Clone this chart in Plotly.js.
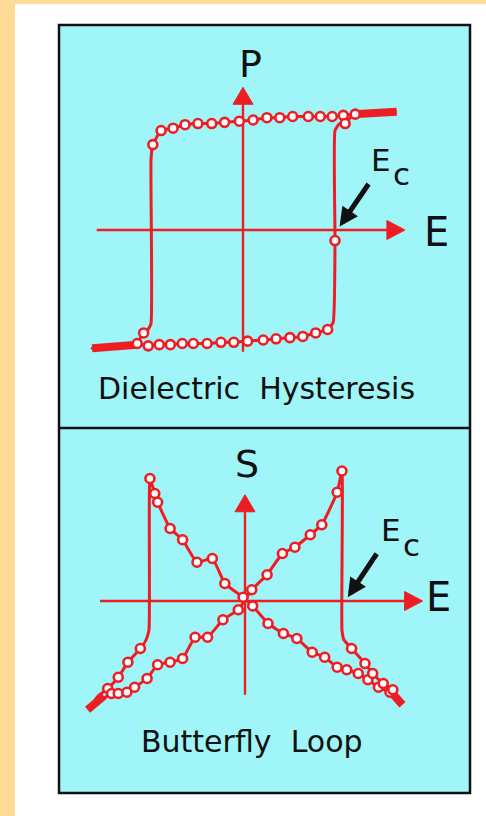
<!DOCTYPE html>
<html>
<head>
<meta charset="utf-8">
<script src="https://cdn.plot.ly/plotly-3.0.1.min.js"></script>
<style>
  html, body { margin: 0; padding: 0; background: #ffffff; }
  #chart { width: 486px; height: 816px; }
</style>
</head>
<body>
<div id="chart"></div>
<script>
// ---- Dielectric hysteresis P(E): field in units of Ec, polarization in units of Ps ----
// Closed loop: upper branch right->left, left switching edge, lower branch left->right, right switching edge.
const hystE = [1.67, 1.38, 1.22, 1.09, 0.97, 0.84, 0.71, 0.54, 0.40, 0.26, 0.11, -0.04, -0.20, -0.34, -0.49, -0.63, -0.76, -0.89, -0.98,
               -1.00, -1.00, -1.04, -1.08, -1.15, -1.35, -1.64,
               -1.45, -1.15, -1.03, -0.91, -0.79, -0.66, -0.54, -0.39, -0.24, -0.10, 0.05, 0.22, 0.36, 0.51, 0.65, 0.79, 0.92,
               0.98, 1.00, 1.00, 1.05, 1.11, 1.18, 1.38, 1.67];
const hystP = [1.01, 1.00, 0.99, 0.98, 0.97, 0.97, 0.97, 0.97, 0.96, 0.96, 0.94, 0.93, 0.92, 0.91, 0.91, 0.90, 0.87, 0.85, 0.73,
               0.60, -0.80, -0.86, -0.88, -0.96, -0.99, -1.01,
               -1.00, -0.97, -0.99, -0.98, -0.98, -0.97, -0.97, -0.97, -0.96, -0.96, -0.95, -0.94, -0.93, -0.92, -0.91, -0.88, -0.85,
               -0.79, -0.09, 0.85, 0.91, 0.91, 0.97, 1.00, 1.01];
// 1 where a measured point (open circle) is drawn
const hystMark = [0, 0, 1, 1, 1, 1, 1, 1, 1, 1, 1, 1, 1, 1, 1, 1, 1, 1, 1,
                  0, 0, 0, 1, 0, 0, 0,
                  0, 1, 1, 1, 1, 1, 1, 1, 1, 1, 1, 1, 1, 1, 1, 1, 1,
                  0, 1, 0, 0, 1, 0, 0, 0];
// saturated ends, where the recorded points pile up
const hystTailE = [1.20, 1.45, 1.67, null, -1.64, -1.40, -1.15];
const hystTailP = [0.99, 1.00, 1.01, null, -1.01, -1.00, -0.98];

// ---- Butterfly loop S(E): field in units of Ec, strain in units of peak strain ----
const flyE = [1.61, 1.51, 1.39, 1.28, 1.18, 1.06, 0.96, 0.83, 0.70, 0.54, 0.40, 0.24, 0.08, -0.02, -0.21, -0.34, -0.50, -0.65, -0.78, -0.91, -0.94, -0.99,
              -1.00, -1.03, -1.09, -1.22, -1.32, -1.43, -1.53, -1.61,
              -1.39, -1.32, -1.23, -1.15, -1.02, -0.91, -0.78, -0.65, -0.52, -0.39, -0.23, -0.07, 0.07, 0.23, 0.39, 0.52, 0.68, 0.80, 0.96, 1.01,
              1.01, 1.03, 1.11, 1.25, 1.33, 1.44, 1.54, 1.61];
const flyS = [-0.79, -0.73, -0.69, -0.63, -0.58, -0.55, -0.53, -0.45, -0.41, -0.30, -0.26, -0.18, -0.04, 0.03, 0.14, 0.34, 0.31, 0.49, 0.58, 0.79, 0.86, 0.98,
              -0.23, -0.31, -0.38, -0.49, -0.61, -0.70, -0.76, -0.85,
              -0.74, -0.74, -0.73, -0.69, -0.62, -0.51, -0.49, -0.46, -0.29, -0.29, -0.15, -0.07, 0.09, 0.21, 0.38, 0.43, 0.53, 0.61, 0.87, 1.04,
              -0.23, -0.31, -0.38, -0.50, -0.58, -0.66, -0.71, -0.79];
const flyMark = [0, 1, 1, 1, 1, 1, 1, 1, 1, 1, 1, 1, 1, 1, 1, 1, 1, 1, 1, 1, 1, 1,
                 0, 0, 1, 1, 1, 1, 0, 0,
                 1, 1, 1, 1, 1, 1, 1, 1, 1, 1, 1, 1, 1, 1, 1, 1, 1, 1, 1, 1,
                 0, 0, 1, 1, 1, 1, 1, 0];
const flyTailE = [-1.64, -1.47, null, 1.49, 1.64];
const flyTailS = [-0.87, -0.76, null, -0.70, -0.83];

// ---- axis extents (tail end, arrow tip) ----
const topAxisE = [-1.59, 1.76];
const topAxisP = [-1.04, 1.22];
const botAxisE = [-1.51, 1.85];
const botAxisS = [-0.75, 0.85];

const panelTitles = ['Dielectric\u00a0\u00a0Hysteresis', 'Butterfly\u00a0\u00a0Loop'];
const axisLetters = { topX: 'E', topY: 'P', botX: 'E', botY: 'S' };

// ---- page geometry ----
const W = 486, H = 816;
const RED = '#EE1D23';
const CYAN = '#A0F5F8';
const PEACH = '#FDDA96';
const INK = '#111111';
const FONT = 'DejaVu Sans, sans-serif';

// pixel origin / pixels per unit of each panel
const topP = { cx: 243, cy: 230, sx: 92, sy: 117, pyTop: 25, pyBot: 428 };
const botP = { cx: 245, cy: 601, sx: 96, sy: 125, pyTop: 428, pyBot: 793 };

function axisPair(p, anchorX, anchorY) {
  return [
    { domain: [0, 1], range: [(0 - p.cx) / p.sx, (W - p.cx) / p.sx], visible: false, fixedrange: true, anchor: anchorY },
    { domain: [1 - p.pyBot / H, 1 - p.pyTop / H], range: [(p.cy - p.pyBot) / p.sy, (p.cy - p.pyTop) / p.sy], visible: false, fixedrange: true, anchor: anchorX }
  ];
}
const [xa1, ya1] = axisPair(topP, 'x', 'y');
const [xa2, ya2] = axisPair(botP, 'x2', 'y2');

function pick(arr, mask) { return arr.filter((_, i) => mask[i] === 1); }

function crossTraces(ax, ay, xr, yr) {
  return [
    { x: [xr[0], xr[1] - 0.05], y: [0, 0], xaxis: ax, yaxis: ay, mode: 'lines', line: { color: RED, width: 2.4 }, hoverinfo: 'skip' },
    { x: [0, 0], y: [yr[0], yr[1] - 0.05], xaxis: ax, yaxis: ay, mode: 'lines', line: { color: RED, width: 2.4 }, hoverinfo: 'skip' }
  ];
}

function loopTraces(ax, ay, xs, ys, mask, tx, ty) {
  return [
    { x: xs, y: ys, xaxis: ax, yaxis: ay, mode: 'lines', line: { color: RED, width: 3, shape: 'spline', smoothing: 0.4 }, hoverinfo: 'skip' },
    { x: tx, y: ty, xaxis: ax, yaxis: ay, mode: 'lines', line: { color: RED, width: 8 }, connectgaps: false, hoverinfo: 'skip' },
    { x: pick(xs, mask), y: pick(ys, mask), xaxis: ax, yaxis: ay, mode: 'markers',
      marker: { symbol: 'circle', size: 9, color: '#ffffff', line: { color: RED, width: 2.6 } }, hoverinfo: 'skip' }
  ];
}

const data = [].concat(
  crossTraces('x', 'y', topAxisE, topAxisP),
  loopTraces('x', 'y', hystE, hystP, hystMark, hystTailE, hystTailP),
  crossTraces('x2', 'y2', botAxisE, botAxisS),
  loopTraces('x2', 'y2', flyE, flyS, flyMark, flyTailE, flyTailS)
);

// red filled arrowheads at the axis tips, sized in pixels
function arrowHead(xref, yref, x, y, dir) {
  const path = dir === 'right' ? 'M 0 0 L -18 9.5 L -18 -9.5 Z' : 'M 0 0 L -10 -17 L 10 -17 Z';
  return { type: 'path', xref, yref, xsizemode: 'pixel', ysizemode: 'pixel', xanchor: x, yanchor: y,
           path, fillcolor: RED, line: { color: RED, width: 1 }, layer: 'above' };
}

const shapes = [
  // peach page margin
  { type: 'rect', xref: 'paper', yref: 'paper', x0: 0, x1: 15 / W, y0: 0, y1: 1, fillcolor: PEACH, line: { width: 0 }, layer: 'below' },
  { type: 'rect', xref: 'paper', yref: 'paper', x0: 0, x1: 1, y0: 1 - 4 / H, y1: 1, fillcolor: PEACH, line: { width: 0 }, layer: 'below' },
  // framed cyan board with divider
  { type: 'rect', xref: 'paper', yref: 'paper', x0: 59 / W, x1: 470 / W, y0: 1 - 793 / H, y1: 1 - 25 / H,
    fillcolor: CYAN, line: { color: INK, width: 2.5 }, layer: 'below' },
  { type: 'line', xref: 'paper', yref: 'paper', x0: 59 / W, x1: 470 / W, y0: 1 - 428 / H, y1: 1 - 428 / H,
    line: { color: INK, width: 2.5 }, layer: 'below' },
  arrowHead('x', 'y', topAxisE[1], 0, 'right'),
  arrowHead('x', 'y', 0, topAxisP[1], 'up'),
  arrowHead('x2', 'y2', botAxisE[1], 0, 'right'),
  arrowHead('x2', 'y2', 0, botAxisS[1], 'up')
];

function label(text, xref, yref, x, y, size) {
  return { text, xref, yref, x, y, showarrow: false, xanchor: 'center', yanchor: 'middle',
           font: { family: FONT, size, color: INK } };
}
function pointer(xref, yref, x, y, ax, ay) {
  return { text: '', xref, yref, x, y, ax, ay, showarrow: true, arrowhead: 2, arrowsize: 0.75,
           arrowwidth: 5, arrowcolor: INK };
}

const annotations = [
  label(axisLetters.topY, 'x', 'y', 0.08, 1.42, 38),
  label(axisLetters.topX, 'x', 'y', 2.10, -0.02, 40),
  label('E', 'x', 'y', 1.50, 0.60, 31),
  label('c', 'x', 'y', 1.72, 0.48, 31),
  pointer('x', 'y', 1.05, 0.03, 30, -44),
  label(axisLetters.botY, 'x2', 'y2', 0.02, 1.10, 38),
  label(axisLetters.botX, 'x2', 'y2', 2.02, 0.03, 40),
  label('E', 'x2', 'y2', 1.52, 0.57, 31),
  label('c', 'x2', 'y2', 1.73, 0.45, 31),
  pointer('x2', 'y2', 1.07, 0.03, 30, -45),
  label(panelTitles[0], 'paper', 'paper', 256.5 / W, 1 - 388 / H, 30),
  label(panelTitles[1], 'paper', 'paper', 252 / W, 1 - 741 / H, 30)
];

const layout = {
  width: W, height: H,
  margin: { l: 0, r: 0, t: 0, b: 0, pad: 0 },
  paper_bgcolor: '#ffffff',
  plot_bgcolor: 'rgba(0,0,0,0)',
  showlegend: false,
  xaxis: xa1, yaxis: ya1,
  xaxis2: xa2, yaxis2: ya2,
  shapes, annotations,
  font: { family: FONT, color: INK }
};

Plotly.newPlot('chart', data, layout, { staticPlot: true, displayModeBar: false });
</script>
</body>
</html>
